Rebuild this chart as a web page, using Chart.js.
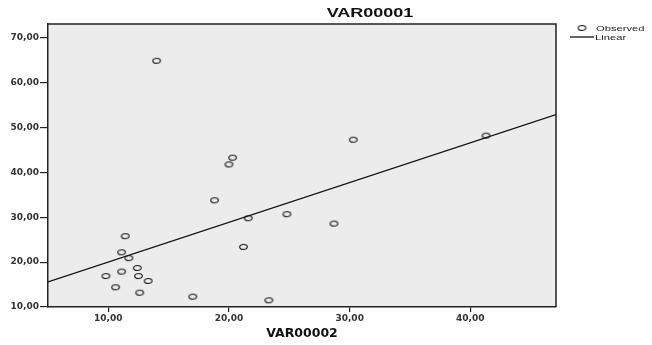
<!DOCTYPE html>
<html>
<head>
<meta charset="utf-8">
<script src="https://cdn.jsdelivr.net/npm/chart.js@4/dist/chart.umd.min.js"></script>
<style>
  html, body { margin: 0; padding: 0; background: #ffffff; }
  #wrap { width: 652px; height: 345px; }
</style>
</head>
<body>
<div id="wrap"><canvas id="c" width="652" height="345"></canvas></div>
<script>
// ---- data ----
const chartTitle = "VAR00001";
const xAxisTitle = "VAR00002";
const legendLabels = ["Observed", "Linear"];

const observedX = [14.0, 20.3, 20.0, 30.3, 41.3, 18.8, 21.6, 24.8, 28.7, 11.4, 11.1, 11.7, 21.2, 12.4, 11.1, 9.8, 12.5, 13.3, 10.6, 12.6, 17.0, 23.3];
const observedY = [64.9, 43.3, 41.8, 47.3, 48.2, 33.8, 29.8, 30.7, 28.6, 25.8, 22.2, 20.9, 23.4, 18.7, 17.9, 16.9, 16.9, 15.8, 14.4, 13.2, 12.3, 11.5];

const linearX = [5.0, 47.1];
const linearY = [15.6, 52.9];

const xTickValues = [10, 20, 30, 40];
const yTickValues = [10, 20, 30, 40, 50, 60, 70];

const xRange = [5.0, 47.1];
const yRange = [10.0, 73.1];

// ---- helpers ----
function fmt(v) { return v.toFixed(2).replace('.', ','); }

function makeMarker() {
  const c = document.createElement('canvas');
  c.width = 11; c.height = 8;
  const g = c.getContext('2d');
  g.strokeStyle = '#1a1a1a';
  g.lineWidth = 1.2;
  g.beginPath();
  g.ellipse(5.5, 4, 3.8, 2.5, 0, 0, Math.PI * 2);
  g.stroke();
  return c;
}
const marker = makeMarker();

const backgroundPlugin = {
  id: 'bgFill',
  beforeDraw(chart) {
    const a = chart.chartArea, ctx = chart.ctx;
    ctx.save();
    ctx.fillStyle = '#ececec';
    ctx.fillRect(a.left, a.top, a.right - a.left, a.bottom - a.top);
    ctx.restore();
  },
  afterDatasetsDraw(chart) {
    const a = chart.chartArea, ctx = chart.ctx;
    ctx.save();
    ctx.strokeStyle = '#222';
    ctx.lineWidth = 1.5;
    ctx.beginPath();
    ctx.moveTo(a.left, a.top);
    ctx.lineTo(a.right, a.top);
    ctx.lineTo(a.right, a.bottom);
    ctx.stroke();
    ctx.restore();
  }
};

// draws text stretched horizontally (the reference glyphs are wide)
function wideText(ctx, text, x, y, sx, align) {
  ctx.save();
  ctx.translate(x, y);
  ctx.scale(sx, 1);
  ctx.textAlign = align;
  ctx.fillText(text, 0, 0);
  ctx.restore();
}

const titleLegendPlugin = {
  id: 'titleLegend',
  afterDraw(chart) {
    const ctx = chart.ctx;
    ctx.save();
    // title
    ctx.fillStyle = '#111';
    ctx.font = 'bold 12px "Liberation Sans", Arial, sans-serif';
    ctx.textBaseline = 'middle';
    wideText(ctx, chartTitle, 370, 14, 1.5, 'center');
    // legend
    ctx.font = '8px "Liberation Sans", Arial, sans-serif';
    ctx.fillStyle = '#222';
    ctx.drawImage(marker, 582 - 5.5, 28 - 4);
    wideText(ctx, legendLabels[0], 596, 28.5, 1.4, 'left');
    ctx.strokeStyle = '#111';
    ctx.lineWidth = 1.3;
    ctx.beginPath();
    ctx.moveTo(570, 37);
    ctx.lineTo(594, 37);
    ctx.stroke();
    wideText(ctx, legendLabels[1], 595, 37.5, 1.4, 'left');
    ctx.restore();
  }
};

const tickFont = { family: '"DejaVu Sans", sans-serif', size: 9, weight: 'bold' };

new Chart(document.getElementById('c'), {
  type: 'scatter',
  data: {
    datasets: [
      {
        label: legendLabels[0],
        data: observedX.map((x, i) => ({ x: x, y: observedY[i] })),
        pointStyle: marker,
        pointRadius: 4,
        showLine: false
      },
      {
        label: legendLabels[1],
        type: 'line',
        data: linearX.map((x, i) => ({ x: x, y: linearY[i] })),
        borderColor: '#111',
        borderWidth: 1.3,
        pointRadius: 0,
        fill: false
      }
    ]
  },
  options: {
    responsive: false,
    animation: false,
    layout: { padding: { top: 24, right: 96, left: 0, bottom: 0 } },
    plugins: {
      legend: { display: false },
      title: { display: false },
      tooltip: { enabled: false }
    },
    scales: {
      x: {
        type: 'linear',
        min: xRange[0],
        max: xRange[1],
        afterBuildTicks(scale) { scale.ticks = xTickValues.map(v => ({ value: v })); },
        afterFit(scale) { scale.height = 38; },
        ticks: {
          callback: v => fmt(v),
          color: '#333',
          font: tickFont,
          padding: 1,
          maxRotation: 0,
          autoSkip: false
        },
        grid: { drawOnChartArea: false, drawTicks: true, tickLength: 5, color: '#222', lineWidth: 1.2 },
        border: { display: true, color: '#222', width: 1.5 },
        title: {
          display: true,
          text: xAxisTitle,
          color: '#111',
          font: { family: '"DejaVu Sans", sans-serif', size: 12.5, weight: 'bold' },
          padding: { top: 0, bottom: 4 }
        }
      },
      y: {
        type: 'linear',
        min: yRange[0],
        max: yRange[1],
        afterBuildTicks(scale) { scale.ticks = yTickValues.map(v => ({ value: v })); },
        afterFit(scale) { scale.width = 48; },
        ticks: {
          callback: v => fmt(v),
          color: '#333',
          font: tickFont,
          padding: 1,
          autoSkip: false
        },
        grid: { drawOnChartArea: false, drawTicks: true, tickLength: 8, color: '#222', lineWidth: 1.2 },
        border: { display: true, color: '#222', width: 1.5 }
      }
    }
  },
  plugins: [backgroundPlugin, titleLegendPlugin]
});
</script>
</body>
</html>
